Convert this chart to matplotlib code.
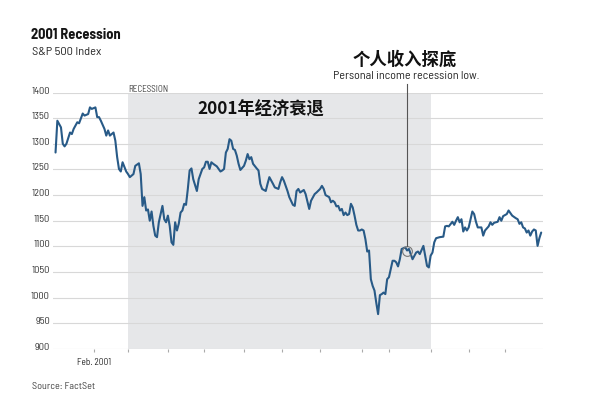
import matplotlib
matplotlib.use('Agg')
import matplotlib.pyplot as plt
from matplotlib import font_manager
from matplotlib.transforms import ScaledTranslation

# ---- data (trading-day index from Jan 2, 2001; S&P 500 close) ----
trading_day = [0, 1, 3, 4, 5, 6, 8, 9, 10, 12, 13, 15, 16, 18, 19, 20, 22, 23, 24, 25,
               27, 28, 29, 30, 32, 33, 34, 35, 36, 37, 39, 40, 41, 43, 44, 46, 47, 48, 49, 50,
               51, 52, 53, 54, 55, 56, 57, 59, 60, 61, 62, 63, 64, 65, 66, 67, 68, 69, 70, 71,
               72, 73, 74, 75, 76, 78, 79, 80, 81, 82, 83, 84, 85, 86, 87, 89, 90, 91, 92, 93,
               94, 95, 96, 97, 98, 99, 100, 101, 102, 104, 105, 106, 107, 108, 109, 111, 112, 113, 114, 116,
               117, 118, 120, 121, 123, 124, 125, 126, 128, 129, 131, 132, 133, 134, 135, 137, 138, 140, 141, 143,
               144, 146, 147, 148, 149, 151, 152, 153, 154, 155, 156, 157, 158, 159, 160, 161, 162, 163, 164, 165,
               166, 167, 168, 169, 170, 171, 172, 173, 174, 175, 176, 177, 178, 179, 180, 181, 182, 183, 184, 185,
               186, 187, 188, 189, 190, 191, 193, 194, 195, 196, 197, 199, 200, 201, 203, 204, 205, 206, 207, 208,
               209, 210, 212, 214, 215, 216, 217, 219, 220, 221, 222, 223, 224, 225, 226, 227, 228, 230, 231, 232,
               233, 235, 236, 237, 239, 240, 241, 242, 244, 245, 246, 247, 249, 250, 251, 252, 254, 255, 256, 257,
               258, 259, 260, 261, 262, 263, 264, 265, 266, 267, 268]
sp500_close = [1283, 1345, 1332, 1300, 1295, 1300, 1322, 1319, 1329, 1342, 1340, 1359, 1355, 1358, 1371, 1368, 1371, 1352, 1352, 1345,
               1329, 1316, 1326, 1316, 1322, 1306, 1274, 1251, 1246, 1264, 1246, 1241, 1235, 1241, 1257, 1262, 1241, 1179, 1196, 1170,
               1172, 1150, 1168, 1140, 1121, 1118, 1147, 1179, 1153, 1147, 1160, 1140, 1108, 1103, 1147, 1131, 1144, 1166, 1170, 1183,
               1181, 1212, 1248, 1252, 1231, 1208, 1231, 1241, 1251, 1254, 1265, 1265, 1251, 1264, 1261, 1256, 1251, 1246, 1248, 1251,
               1283, 1290, 1309, 1306, 1290, 1288, 1277, 1261, 1249, 1257, 1267, 1280, 1270, 1274, 1261, 1252, 1248, 1222, 1212, 1208,
               1222, 1235, 1222, 1215, 1212, 1225, 1235, 1228, 1208, 1196, 1181, 1179, 1208, 1212, 1205, 1210, 1202, 1173, 1189, 1202,
               1205, 1212, 1218, 1212, 1200, 1196, 1186, 1189, 1186, 1178, 1179, 1170, 1173, 1161, 1166, 1161, 1163, 1183, 1176, 1160,
               1142, 1131, 1131, 1133, 1131, 1114, 1090, 1092, 1036, 1023, 1014, 990, 968, 1005, 1007, 1010, 1007, 1036, 1040, 1056,
               1072, 1072, 1069, 1061, 1075, 1095, 1098, 1092, 1095, 1085, 1075, 1088, 1090, 1085, 1101, 1082, 1062, 1059, 1082, 1088,
               1108, 1116, 1118, 1119, 1139, 1140, 1139, 1148, 1142, 1150, 1157, 1147, 1153, 1129, 1137, 1131, 1137, 1168, 1163, 1148,
               1137, 1137, 1121, 1131, 1139, 1147, 1142, 1146, 1148, 1157, 1150, 1159, 1163, 1170, 1165, 1160, 1155, 1153, 1144, 1147,
               1137, 1135, 1127, 1131, 1121, 1129, 1133, 1131, 1101, 1116, 1127]

recession_start_day = 40    # Mar. 1, 2001
recession_end_day = 207     # Nov. 1, 2001
month_tick_days = [21, 40, 62, 82, 104, 125, 146, 169, 184, 207, 228, 248]
month_tick_labels = ['Feb. 2001', '', '', '', '', '', '', '', '', '', '', '']
y_ticks = [900, 950, 1000, 1050, 1100, 1150, 1200, 1250, 1300, 1350, 1400]
y_tick_labels = ['900', '950', '1000', '1050', '1100', '1150', '1200', '1250', '1300', '1350', '1400']
note_day = 194
note_value = 1092

title = '2001 Recession'
subtitle = 'S&P 500 Index'
shade_label = 'RECESSION'
cn_title = '2001年经济衰退'
note_cn = '个人收入探底'
note_en = 'Personal income recession low.'
source = 'Source: FactSet'

# ---- fonts ----
names = {f.name for f in font_manager.fontManager.ttflist}
if 'Barlow Semi Condensed' in names:
    FAM, STRETCH = 'Barlow Semi Condensed', 'normal'
else:
    FAM, STRETCH = 'DejaVu Sans', 'condensed'
CJK = ['Noto Sans CJK SC', 'DejaVu Sans']

W, H = 600, 406
def fx(px):
    return px / W
def fy(py):
    return 1 - py / H

fig = plt.figure(figsize=(W / 100, H / 100), dpi=100)
fig.patch.set_facecolor('white')
renderer = fig.canvas.get_renderer()

def fit(t, target_px):
    bb = t.get_window_extent(renderer)
    t.set_fontsize(t.get_fontsize() * target_px / bb.width)
    return t

ax = fig.add_axes([53 / W, 56 / H, 490 / W, 256.5 / H])
ax.set_xlim(-1.4, 269)
ax.set_ylim(900, 1400)

ax.axvspan(recession_start_day, recession_end_day, color='#e6e7e9', lw=0, zorder=0)
for yv in y_ticks:
    ax.axhline(yv, color='#d8d8d8', lw=0.8, zorder=1)

ax.plot(trading_day, sp500_close, color='#285a87', lw=1.5, zorder=3,
        solid_joinstyle='round', solid_capstyle='round')

# annotation
ax.plot([note_day], [note_value], marker='o', ms=7, mfc='none', mec='#777', mew=0.8, zorder=4)
ax.plot([note_day, note_day], [note_value + 8, 1416], color='#555555', lw=0.8,
        clip_on=False, zorder=4)

for s in ax.spines.values():
    s.set_visible(False)

kw = dict(fontfamily=FAM, fontstretch=STRETCH)

probe = fig.text(0, 0, '1400', fontsize=7, **kw)
fit(probe, 18.5)
ytick_size = probe.get_fontsize()
probe.set_text('Feb. 2001'); probe.set_fontsize(7)
fit(probe, 34)
xtick_size = probe.get_fontsize()
probe.remove()

ax.set_xticks(month_tick_days)
ax.set_xticklabels(month_tick_labels, fontsize=xtick_size, color='#2a2a2a', **kw)
ax.tick_params(axis='x', length=2, width=0.8, color='#aaaaaa', pad=4)

ax.set_yticks(y_ticks)
ax.set_yticklabels(y_tick_labels, fontsize=ytick_size, color='#333333', **kw)
ax.tick_params(axis='y', length=0, pad=2.2)
for lab in ax.get_yticklabels():
    lab.set_transform(lab.get_transform() + ScaledTranslation(0, 3.5 / 100, fig.dpi_scale_trans))

# texts
fit(fig.text(fx(31), fy(39), title, fontweight='bold', fontsize=10,
             color='#151515', va='baseline', ha='left', **kw), 90)
fit(fig.text(fx(32), fy(55), subtitle, fontsize=8,
             color='#2a2a2a', va='baseline', ha='left', **kw), 69)
fit(fig.text(fx(128), fy(92.5), shade_label, fontsize=6,
             color='#444444', va='baseline', ha='left', **kw), 41)
fig.text(fx(197), fy(110), cn_title, fontfamily=CJK, fontweight='bold', fontsize=12.4,
         color='#111111', va='center', ha='left')
fig.text(fx(405), fy(60), note_cn, fontfamily=CJK, fontweight='bold', fontsize=12.5,
         color='#111111', va='center', ha='center')
fit(fig.text(fx(406.5), fy(76), note_en, fontsize=8,
             color='#2a2a2a', va='center', ha='center', **kw), 147)
fit(fig.text(fx(32), fy(389.5), source, fontsize=7.5,
             color='#444444', va='baseline', ha='left', **kw), 63)

fig.savefig('out.png', dpi=100, facecolor='white')
